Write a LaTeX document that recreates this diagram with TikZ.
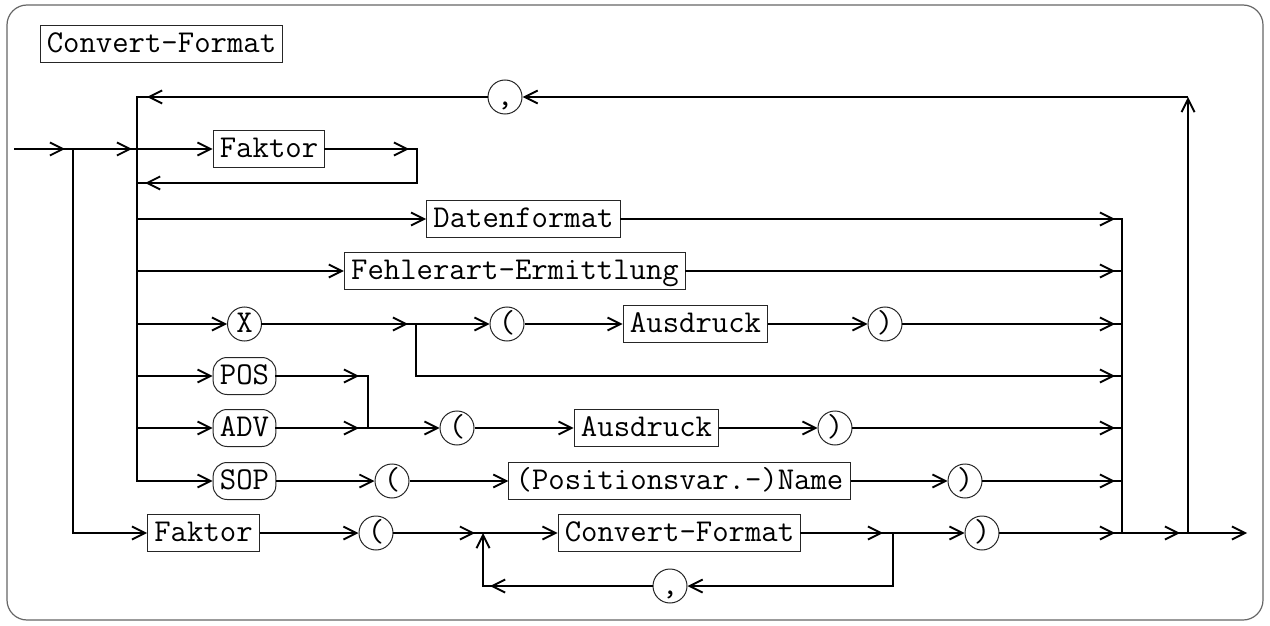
\documentclass[tikz,border=0pt]{standalone}
\usetikzlibrary{arrows.meta,decorations.markings}
\tikzset{
  conn/.style={line width=0.95pt},
  plain/.style={conn, line cap=rect},
  ah/.style={conn, -{Straight Barb[length=6.5pt,width=6.5pt]}},
  arrowat/.style={conn, line cap=rect, postaction={decorate,decoration={markings,
      mark=at position #1 with {\arrow{Straight Barb[length=6.5pt,width=6.5pt]}}}}},
  lbl/.style={font=\fontsize{15.9}{18}\selectfont\ttfamily, text height=11.5pt, text depth=3pt},
  nt/.style={lbl, draw=black!85, line width=0.5pt, inner xsep=3.4pt, inner ysep=2pt},
  tm/.style={nt, rounded corners=7pt},
  tc/.style={lbl, circle, draw=black!85, line width=0.5pt, minimum size=17pt, inner sep=0pt}
}
\begin{document}
\begin{tikzpicture}[x=0.5pt,y=-0.5pt]
\useasboundingbox (0,0) rectangle (1270,626);
\draw[black!60, line width=0.6pt, rounded corners=10pt] (7,5) rectangle (1263,620);

% nodes
\node[nt] (title) at (161.5,44.5) {Convert-Format};
\node[tc] (c1) at (505,97) {,};
\node[nt] (fak1) at (269,149) {Faktor};
\node[nt] (dat) at (523.5,219) {Datenformat};
\node[nt] (feh) at (515,271) {Fehlerart-Ermittlung};
\node[tc] (x) at (244.5,324) {X};
\node[tc] (xl) at (507,324) {(};
\node[nt] (xa) at (695.5,324) {Ausdruck};
\node[tc] (xr) at (885,324) {)};
\node[tm] (pos) at (244.5,376) {POS};
\node[tm] (adv) at (244.5,428) {ADV};
\node[tm] (sop) at (244.5,481) {SOP};
\node[tc] (al) at (457,428) {(};
\node[nt] (aa) at (646.5,428) {Ausdruck};
\node[tc] (ar) at (835,428) {)};
\node[tc] (sl) at (392,481) {(};
\node[nt] (sn) at (679.5,481) {(Positionsvar.-)Name};
\node[tc] (sr) at (965,481) {)};
\node[nt] (fak2) at (203.5,533) {Faktor};
\node[tc] (bl) at (376,533) {(};
\node[nt] (cf) at (679.5,533) {Convert-Format};
\node[tc] (br) at (982,533) {)};
\node[tc] (c2) at (670,586) {,};

% coordinates
\coordinate (start) at (15,149);
\coordinate (j0) at (73,149);
\coordinate (j0b) at (73,533);
\coordinate (m0) at (137,97);
\coordinate (mF) at (137,149);
\coordinate (mD) at (137,219);
\coordinate (mE) at (137,271);
\coordinate (mX) at (137,324);
\coordinate (mP) at (137,376);
\coordinate (mA) at (137,428);
\coordinate (mS) at (137,481);
\coordinate (fr) at (417,149);
\coordinate (fr2) at (417,183);
\coordinate (fr3) at (137,183);
\coordinate (jx) at (416,324);
\coordinate (jx2) at (416,376);
\coordinate (jp) at (368,376);
\coordinate (ja) at (368,428);
\coordinate (rD) at (1122,219);
\coordinate (rE) at (1122,271);
\coordinate (rX) at (1122,324);
\coordinate (rB) at (1122,376);
\coordinate (rA) at (1122,428);
\coordinate (rS) at (1122,481);
\coordinate (rF) at (1122,533);
\coordinate (q) at (1188,533);
\coordinate (qt) at (1188,97);
\coordinate (end) at (1247,533);
\coordinate (b1) at (483,533);
\coordinate (b2) at (893,533);
\coordinate (b2d) at (893,586);
\coordinate (b1d) at (483,586);

% main verticals
\draw[plain] (m0) -- (mS);
\draw[plain] (rD) -- (rF);

% entry
\draw[arrowat=-4pt] (start) -- (j0);
\draw[arrowat=-2.5pt] (j0) -- (mF);
\draw[plain] (j0) -- (j0b);
\draw[ah] (j0b) -- (fak2);

% Faktor loop
\draw[ah] (mF) -- (fak1);
\draw[arrowat=-4pt] (fak1) -- (fr);
\draw[arrowat=-4pt] (fr) -- (fr2) -- (fr3);

% Datenformat, Fehlerart
\draw[ah] (mD) -- (dat);
\draw[arrowat=-3.5pt] (dat) -- (rD);
\draw[ah] (mE) -- (feh);
\draw[arrowat=-3.5pt] (feh) -- (rE);

% X row
\draw[ah] (mX) -- (x);
\draw[arrowat=-4pt] (x) -- (jx);
\draw[ah] (jx) -- (xl);
\draw[ah] (xl) -- (xa);
\draw[ah] (xa) -- (xr);
\draw[arrowat=-3.5pt] (xr) -- (rX);
\draw[arrowat=-3.5pt] (jx) -- (jx2) -- (rB);

% POS / ADV
\draw[ah] (mP) -- (pos);
\draw[arrowat=-4.5pt] (pos) -- (jp);
\draw[plain] (jp) -- (ja);
\draw[ah] (mA) -- (adv);
\draw[arrowat=-4.5pt] (adv) -- (ja);
\draw[ah] (ja) -- (al);
\draw[ah] (al) -- (aa);
\draw[ah] (aa) -- (ar);
\draw[arrowat=-3.5pt] (ar) -- (rA);

% SOP
\draw[ah] (mS) -- (sop);
\draw[ah] (sop) -- (sl);
\draw[ah] (sl) -- (sn);
\draw[ah] (sn) -- (sr);
\draw[arrowat=-3.5pt] (sr) -- (rS);

% bottom row
\draw[ah] (fak2) -- (bl);
\draw[arrowat=-4pt] (bl) -- (b1);
\draw[ah] (b1) -- (cf);
\draw[arrowat=-5pt] (cf) -- (b2);
\draw[ah] (b2) -- (br);
\draw[arrowat=-3.5pt] (br) -- (rF);
\draw[plain] (b2) -- (b2d);
\draw[ah] (b2d) -- (c2);
\draw[arrowat=-3.5pt] (c2) -- (b1d);
\draw[ah] (b1d) -- (b1);

% exit and outer loop
\draw[arrowat=-4pt] (rF) -- (q);
\draw[ah] (q) -- (end);
\draw[ah] (q) -- (qt);
\draw[ah] (qt) -- (c1);
\draw[arrowat=-5pt] (c1) -- (m0);
\end{tikzpicture}
\end{document}
